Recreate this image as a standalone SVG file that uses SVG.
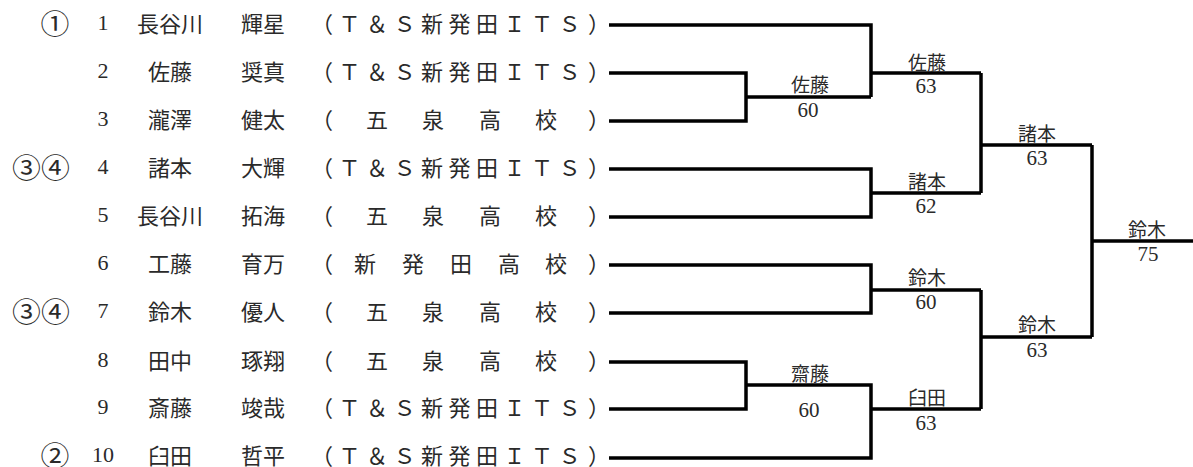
<svg xmlns="http://www.w3.org/2000/svg" width="1193" height="467" viewBox="0 0 1193 467">
<style>
text{dominant-baseline:central;text-anchor:middle;fill:#2a2a2a}
.cj{font-family:"Noto Sans CJK JP","Noto Sans CJK SC",sans-serif;font-size:22px}
.lb{font-family:"Noto Sans CJK JP","Noto Sans CJK SC",sans-serif;font-size:19px}
.n{font-family:"Liberation Serif",serif;font-size:22px}
.sc{font-family:"Liberation Serif",serif;font-size:21px}
.cn{font-family:"Noto Sans CJK JP","Noto Sans CJK SC",sans-serif;font-size:27px}
.ln{fill:none;stroke:#000;stroke-width:3.5;stroke-linejoin:miter;stroke-linecap:butt}
</style>
<rect width="1193" height="467" fill="#fff"/>
<g id="row1"><text class="cn" transform="translate(55 22) scale(1.07 1)">①</text><text class="n" x="103" y="22">1</text><text class="cj" x="170" y="22">長谷川</text><text class="cj" x="263" y="22">輝星</text><text class="cj" x="322 349.5 377 404.5 432 459.5 487 514.5 542 569.5 599" y="22">（Ｔ＆Ｓ新発田ＩＴＳ）</text></g>
<g id="row2"><text class="n" x="103" y="70">2</text><text class="cj" x="170" y="70">佐藤</text><text class="cj" x="263" y="70">奨真</text><text class="cj" x="322 349.5 377 404.5 432 459.5 487 514.5 542 569.5 599" y="70">（Ｔ＆Ｓ新発田ＩＴＳ）</text></g>
<g id="row3"><text class="n" x="103" y="118">3</text><text class="cj" x="170" y="118">瀧澤</text><text class="cj" x="263" y="118">健太</text><text class="cj" x="322 377 433 490 546 599" y="118">（五泉高校）</text></g>
<g id="row4"><text class="cn" transform="translate(41 166) scale(1.07 1)">③④</text><text class="n" x="103" y="166">4</text><text class="cj" x="170" y="166">諸本</text><text class="cj" x="263" y="166">大輝</text><text class="cj" x="322 349.5 377 404.5 432 459.5 487 514.5 542 569.5 599" y="166">（Ｔ＆Ｓ新発田ＩＴＳ）</text></g>
<g id="row5"><text class="n" x="103" y="214">5</text><text class="cj" x="170" y="214">長谷川</text><text class="cj" x="263" y="214">拓海</text><text class="cj" x="322 377 433 490 546 599" y="214">（五泉高校）</text></g>
<g id="row6"><text class="n" x="103" y="262">6</text><text class="cj" x="170" y="262">工藤</text><text class="cj" x="263" y="262">育万</text><text class="cj" x="322 365 413 461 509 556 599" y="262">（新発田高校）</text></g>
<g id="row7"><text class="cn" transform="translate(41 310) scale(1.07 1)">③④</text><text class="n" x="103" y="310">7</text><text class="cj" x="170" y="310">鈴木</text><text class="cj" x="263" y="310">優人</text><text class="cj" x="322 377 433 490 546 599" y="310">（五泉高校）</text></g>
<g id="row8"><text class="n" x="103" y="359">8</text><text class="cj" x="170" y="359">田中</text><text class="cj" x="263" y="359">琢翔</text><text class="cj" x="322 377 433 490 546 599" y="359">（五泉高校）</text></g>
<g id="row9"><text class="n" x="103" y="406">9</text><text class="cj" x="170" y="406">斎藤</text><text class="cj" x="263" y="406">竣哉</text><text class="cj" x="322 349.5 377 404.5 432 459.5 487 514.5 542 569.5 599" y="406">（Ｔ＆Ｓ新発田ＩＴＳ）</text></g>
<g id="row10"><text class="cn" transform="translate(55 454) scale(1.07 1)">②</text><text class="n" x="103" y="454">10</text><text class="cj" x="170" y="454">臼田</text><text class="cj" x="263" y="454">哲平</text><text class="cj" x="322 349.5 377 404.5 432 459.5 487 514.5 542 569.5 599" y="454">（Ｔ＆Ｓ新発田ＩＴＳ）</text></g>
<g id="connectors">
<path class="ln" d="M609 25H871V97M609 73H746V121H609M746 97H871M871 73H981"/>
<path class="ln" d="M609 169H871V217H609M871 193H981"/>
<path class="ln" d="M981 73V193M981 145H1092"/>
<path class="ln" d="M609 265H871V313H609M871 290H981"/>
<path class="ln" d="M609 362H746V409H609M746 385H871V458H609M871 409H981"/>
<path class="ln" d="M981 290V409M981 337H1092"/>
<path class="ln" d="M1092 145V337M1092 241H1193"/>
</g>
<g id="w1"><text class="lb" x="810" y="83">佐藤</text><text class="sc" x="808" y="110">60</text></g>
<g id="w2"><text class="lb" x="927" y="61">佐藤</text><text class="sc" x="926" y="86">63</text></g>
<g id="w3"><text class="lb" x="927" y="180">諸本</text><text class="sc" x="926" y="206">62</text></g>
<g id="w4"><text class="lb" x="1037" y="132">諸本</text><text class="sc" x="1037" y="158">63</text></g>
<g id="w5"><text class="lb" x="1147" y="228">鈴木</text><text class="sc" x="1148" y="254">75</text></g>
<g id="w6"><text class="lb" x="927" y="276">鈴木</text><text class="sc" x="926" y="302">60</text></g>
<g id="w7"><text class="lb" x="1037" y="323">鈴木</text><text class="sc" x="1037" y="350">63</text></g>
<g id="w8"><text class="lb" x="810" y="372">齋藤</text><text class="sc" x="809" y="410">60</text></g>
<g id="w9"><text class="lb" x="927" y="396">臼田</text><text class="sc" x="926" y="423">63</text></g>
</svg>
